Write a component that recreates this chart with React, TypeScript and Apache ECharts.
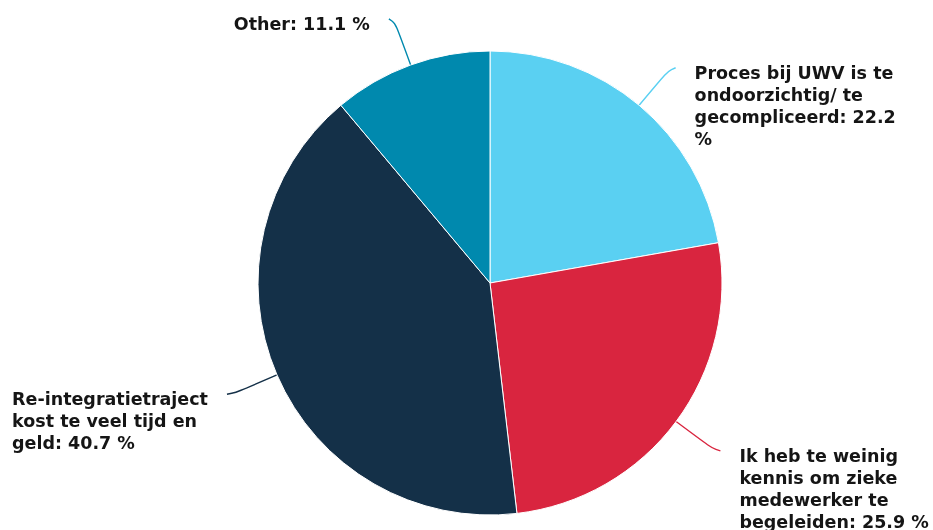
import React, { useEffect, useRef } from "react";
import * as echarts from "echarts";

const categories = [
  "Proces bij UWV is te ondoorzichtig/ te gecompliceerd",
  "Ik heb te weinig kennis om zieke medewerker te begeleiden",
  "Re-integratietraject kost te veel tijd en geld",
  "Other",
];
const values = [22.2, 25.9, 40.7, 11.1];
const colors = ["#5ad0f2", "#d9253f", "#143048", "#0089ae"];

const FONT = "bold 17.5px 'DejaVu Sans'";
const WRAP = 212;

function blockWidth(text: string): number {
  const ctx = document.createElement("canvas").getContext("2d");
  if (!ctx) return WRAP;
  ctx.font = FONT;
  const words = text.split(" ");
  let line = "";
  let max = 0;
  for (const w of words) {
    const t = line ? line + " " + w : w;
    if (ctx.measureText(t).width > WRAP && line) {
      max = Math.max(max, ctx.measureText(line).width);
      line = w;
    } else {
      line = t;
    }
  }
  max = Math.max(max, ctx.measureText(line).width);
  return max;
}

export default function App() {
  const ref = useRef<HTMLDivElement>(null);
  useEffect(() => {
    if (!ref.current) return;
    const chart = echarts.init(ref.current, null, { renderer: "svg" });
    chart.setOption({
      animation: false,
      series: [
        {
          type: "pie",
          center: [490, 283],
          radius: 232,
          startAngle: 90,
          clockwise: true,
          avoidLabelOverlap: false,
          data: categories.map((name, i) => ({
            name,
            value: values[i],
            itemStyle: { color: colors[i] },
            labelLine: { lineStyle: { color: colors[i] } },
          })),
          itemStyle: { borderColor: "#ffffff", borderWidth: 1 },
          label: {
            show: true,
            position: "outside",
            formatter: (p: any) => `${p.name}: ${p.value.toFixed(1)} %`,
            fontFamily: "DejaVu Sans",
            fontWeight: "bold",
            fontSize: 17.5,
            lineHeight: 22,
            color: "#151515",
            width: WRAP,
            overflow: "break",
            distanceToLabelLine: 18,
          },
          labelLine: {
            show: true,
            length: 49,
            length2: 5,
            smooth: 1,
            lineStyle: { width: 1.4 },
          },
          labelLayout: (params: any) => {
            const pts = params.labelLinePoints;
            if (!pts) return {};
            const end = pts[pts.length - 1];
            const right = end[0] > 490;
            const w = blockWidth(params.text || "");
            return {
              x: right ? end[0] + 19 : end[0] - 19 - w,
              y: end[1] - 6,
              align: "left",
              verticalAlign: "top",
              labelLinePoints: pts.map((p: number[]) => [p[0], p[1]]),
            };
          },
        },
      ],
    });
    return () => chart.dispose();
  }, []);
  return (
    <div
      ref={ref}
      style={{ position: "fixed", left: 0, top: 0, width: 933, height: 530 }}
    />
  );
}
